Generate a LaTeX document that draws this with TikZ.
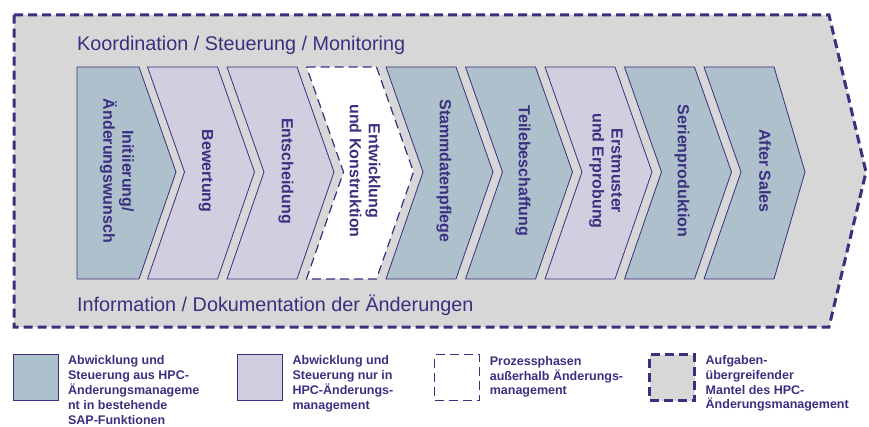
\documentclass[tikz,border=0pt]{standalone}
\usepackage{fontspec}
\setmainfont{Liberation Sans}
\usetikzlibrary{positioning}
\definecolor{hpcpurple}{HTML}{3B2F7F}
\definecolor{hpcblue}{HTML}{ADC0CC}
\definecolor{hpclilac}{HTML}{D2CEE0}
\definecolor{hpcgrey}{HTML}{D7D7D7}

\begin{document}
\begin{tikzpicture}[x=1pt, y=-1pt,
  phase/.style={draw=hpcpurple, line width=0.8pt, line join=miter},
  sapphase/.style={phase, fill=hpcblue},
  hpcphase/.style={phase, fill=hpclilac},
  extphase/.style={phase, fill=white, line width=1.2pt, dash pattern=on 9pt off 5pt},
  mantle/.style={draw=hpcpurple, fill=hpcgrey, line width=3pt, dash pattern=on 9pt off 5pt},
  phasetext/.style={text=hpcpurple, font=\fontsize{16}{19}\selectfont\bfseries, align=center, rotate=-90, inner sep=0pt},
  bandtext/.style={text=hpcpurple, font=\fontsize{19.8}{23}\selectfont, anchor=base west, inner sep=0pt},
  legbox/.style={minimum width=45pt, minimum height=46pt, inner sep=0pt},
  legtext/.style={text=hpcpurple, font=\fontsize{12.5}{14.9}\selectfont\bfseries, align=left, inner sep=0pt, right=9.5pt of #1.north east, anchor=north west, yshift=-2pt}
]
\useasboundingbox (0,0) rectangle (869,427);

% Mantle
\draw[mantle] (14,15) -- (829,15) -- (866,172) -- (829,327) -- (14,327) -- cycle;
\node[bandtext] (top) at (77,51) {Koordination / Steuerung / Monitoring};
\node[bandtext] (bottom) at (77,312) {Information / Dokumentation der Änderungen};

% Phases
\draw[sapphase] (77,67) -- (139,67) -- (176,172) -- (139,279) -- (77,279) -- cycle;
\draw[hpcphase] (147.5,67) -- ++(70,0) -- ++(37,105) -- ++(-37,107) -- ++(-70,0) -- ++(37,-107) -- cycle;
\draw[hpcphase] (227,67) -- ++(70,0) -- ++(37,105) -- ++(-37,107) -- ++(-70,0) -- ++(37,-107) -- cycle;
\draw[extphase] (306.5,67) -- ++(70,0) -- ++(37,105) -- ++(-37,107) -- ++(-70,0) -- ++(37,-107) -- cycle;
\draw[sapphase] (386,67) -- ++(70,0) -- ++(37,105) -- ++(-37,107) -- ++(-70,0) -- ++(37,-107) -- cycle;
\draw[sapphase] (465.5,67) -- ++(70,0) -- ++(37,105) -- ++(-37,107) -- ++(-70,0) -- ++(37,-107) -- cycle;
\draw[hpcphase] (545,67) -- ++(70,0) -- ++(37,105) -- ++(-37,107) -- ++(-70,0) -- ++(37,-107) -- cycle;
\draw[sapphase] (624.5,67) -- ++(70,0) -- ++(37,105) -- ++(-37,107) -- ++(-70,0) -- ++(37,-107) -- cycle;
\draw[sapphase] (704,67) -- ++(70,0) -- ++(31,105) -- ++(-31,107) -- ++(-70,0) -- ++(37,-107) -- cycle;

\node[phasetext] (p1) at (117,171) {Initiierung/\\Änderungswunsch};
\node[phasetext] (p2) at (206,171) {Bewertung};
\node[phasetext] (p3) at (286,171) {Entscheidung};
\node[phasetext] (p4) at (365,171) {Entwicklung\\und Konstruktion};
\node[phasetext] (p5) at (444,171) {Stammdatenpflege};
\node[phasetext] (p6) at (523,171) {Teilebeschaffung};
\node[phasetext] (p7) at (606,171) {Erstmuster\\und Erprobung};
\node[phasetext] (p8) at (682,171) {Serienproduktion};
\node[phasetext] (p9) at (765,171) {After Sales};

% Legend
\node[legbox, sapphase] (leg1) at (35.5,377) {};
\node[legbox, hpcphase] (leg2) at (260,377) {};
\node[legbox, extphase] (leg3) at (457,377.5) {};
\node[legbox, mantle] (leg4) at (672,377.5) {};

\node[legtext=leg1] (leg1txt) {Abwicklung und\\Steuerung aus HPC-\\Änderungsmanageme\\nt in bestehende\\SAP-Funktionen};
\node[legtext=leg2] (leg2txt) {Abwicklung und\\Steuerung nur in\\HPC-Änderungs-\\management};
\node[legtext=leg3] (leg3txt) {Prozessphasen\\außerhalb Änderungs-\\management};
\node[legtext=leg4] (leg4txt) {Aufgaben-\\übergreifender\\Mantel des HPC-\\Änderungsmanagement};
\end{tikzpicture}
\end{document}
